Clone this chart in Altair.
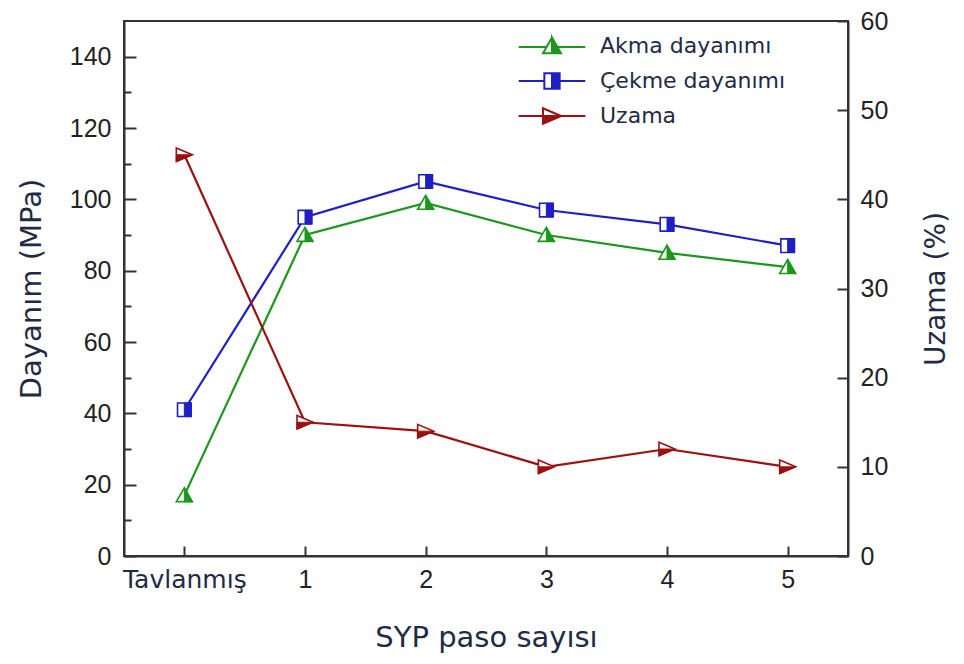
import altair as alt
import pandas as pd

# ---- data ----
categories = ["Tavlanmış", "1", "2", "3", "4", "5"]
akma = [17, 90, 99, 90, 85, 81]          # MPa (left axis)
cekme = [41, 95, 105, 97, 93, 87]        # MPa (left axis)
uzama = [45, 15, 14, 10, 12, 10]         # % (right axis)

series_names = ["Akma dayanımı", "Çekme dayanımı", "Uzama"]
series_colors = ["#1b971b", "#1f1fc4", "#9c1010"]

left_ticks_major = [0, 20, 40, 60, 80, 100, 120, 140]
left_ticks_minor = [10, 30, 50, 70, 90, 110, 130]
right_ticks = [0, 10, 20, 30, 40, 50, 60]

# ---- marker shapes (unit paths) ----
outline_paths = [
    "M0,-0.95L1,0.8L-1,0.8Z",
    "M-0.85,-0.85L0.85,-0.85L0.85,0.85L-0.85,0.85Z",
    "M-1,-0.85L1,0L-1,0.85Z",
]
half_paths = [
    "M0,-0.95L1,0.8L0,0.8Z",
    "M0,-0.85L0.85,-0.85L0.85,0.85L0,0.85Z",
    "M-1,0L1,0L-1,0.85Z",
]
legend_paths = [
    "M-3.7,0.1H-0.6M0.6,0.1H3.7"
    "M0,-0.95L-1,0.8L0,0.8L-1,0.8Z"
    "M0,-0.95L1,0.8L0,0.8Z",
    "M-3.7,0H-0.85M0.85,0H3.7"
    "M0,-0.85L-0.85,-0.85L-0.85,0.85L0,0.85L-0.85,0.85L-0.85,-0.85Z"
    "M0,-0.85L0.85,-0.85L0.85,0.85L0,0.85Z",
    "M-3.7,0H-1M1,0H3.7"
    "M-1,0L-1,-0.85L1,0L-1,-0.85Z"
    "M-1,0L1,0L-1,0.85Z",
]

W, H = 724, 535
TITLE_COLOR = "#1f2b45"
TICK_COLOR = "#333333"
NUM_SIZE = 25

xscale = alt.Scale(type="point", domain=categories, padding=0.5)
lscale = alt.Scale(domain=[0, 150], nice=False, zero=True)
rscale = alt.Scale(domain=[0, 60], nice=False, zero=True)

x_label_axis = alt.Axis(
    orient="bottom", ticks=False, domain=True, domainColor=TICK_COLOR, domainWidth=2,
    labelAngle=0, labelPadding=11,
    labelFont={"condition": {"test": "datum.value == 'Tavlanmış'", "value": "DejaVu Sans"}, "value": "Liberation Sans"},
    labelFontSize={"condition": {"test": "datum.value == 'Tavlanmış'", "value": 25}, "value": NUM_SIZE},
    labelColor={"condition": {"test": "datum.value == 'Tavlanmış'", "value": TITLE_COLOR}, "value": "#222222"},
    title="SYP paso sayısı", titleFont="DejaVu Sans", titleFontSize=29, titleFontWeight="normal",
    titleColor=TITLE_COLOR, titlePadding=31, grid=False,
)
x_tick_axis = alt.Axis(
    orient="bottom", labels=False, domain=False, ticks=True, tickSize={"expr": "-10"},
    tickColor=TICK_COLOR, tickWidth=2, title=None, grid=False,
)
l_label_axis = alt.Axis(
    orient="left", values=left_ticks_major, ticks=False, domain=True, domainColor=TICK_COLOR,
    domainWidth=2, labelFont="Liberation Sans", labelFontSize=NUM_SIZE, labelColor="#222222",
    labelPadding=13, title="Dayanım (MPa)", titleFont="DejaVu Sans", titleFontSize=29,
    titleFontWeight="normal", titleColor=TITLE_COLOR, titlePadding=23, grid=False,
)
l_major_axis = alt.Axis(
    orient="left", values=left_ticks_major, labels=False, domain=False, ticks=True,
    tickSize={"expr": "-12"}, tickColor=TICK_COLOR, tickWidth=2, title=None, grid=False,
)
l_minor_axis = alt.Axis(
    orient="left", values=left_ticks_minor, labels=False, domain=False, ticks=True,
    tickSize={"expr": "-7"}, tickColor=TICK_COLOR, tickWidth=2, title=None, grid=False,
)
r_label_axis = alt.Axis(
    orient="right", values=right_ticks, ticks=False, domain=True, domainColor=TICK_COLOR,
    domainWidth=2, labelFont="Liberation Sans", labelFontSize=NUM_SIZE, labelColor="#222222",
    labelPadding=12, title="Uzama (%)", titleFont="DejaVu Sans", titleFontSize=28,
    titleFontWeight="normal", titleColor=TITLE_COLOR, titleAngle=270, titleBaseline="top",
    titlePadding=35, grid=False,
)
r_tick_axis = alt.Axis(
    orient="right", values=right_ticks, labels=False, domain=False, ticks=True,
    tickSize={"expr": "-11"}, tickColor=TICK_COLOR, tickWidth=2, title=None, grid=False,
)


def frame(values):
    return pd.DataFrame({"cat": categories, "v": values})


def series_layers(values, idx, yscale, axes):
    """axes: list of (x_axis, y_axis) for line, bg, half layers"""
    df = frame(values)
    c = series_colors[idx]
    base = alt.Chart(df)
    line = base.mark_line(color=c, strokeWidth=2.2).encode(
        x=alt.X("cat:N", scale=xscale, sort=categories, axis=axes[0][0], title=None),
        y=alt.Y("v:Q", scale=yscale, axis=axes[0][1], title=None),
    )
    bg = base.mark_point(shape=outline_paths[idx], filled=True, fill="white", stroke=c,
                         strokeWidth=1.6, size=256, opacity=1).encode(
        x=alt.X("cat:N", scale=xscale, sort=categories, axis=axes[1][0], title=None),
        y=alt.Y("v:Q", scale=yscale, axis=axes[1][1], title=None),
    )
    half = base.mark_point(shape=half_paths[idx], filled=True, fill=c, stroke=c,
                           strokeWidth=1, size=256, opacity=1).encode(
        x=alt.X("cat:N", scale=xscale, sort=categories, axis=axes[2][0], title=None),
        y=alt.Y("v:Q", scale=yscale, axis=axes[2][1], title=None),
    )
    return line, bg, half


akma_l, akma_bg, akma_h = series_layers(
    akma, 0, lscale, [(x_label_axis, l_label_axis), (x_tick_axis, l_major_axis), (None, l_minor_axis)])
cekme_l, cekme_bg, cekme_h = series_layers(
    cekme, 1, lscale, [(None, None)] * 3)
uz_l, uz_bg, uz_h = series_layers(
    uzama, 2, rscale, [(None, r_label_axis), (None, r_tick_axis), (None, None)])

legend_df = pd.DataFrame({"series": series_names, "cat": [categories[0]] * 3, "v": [akma[0]] * 3})
leg = alt.Legend(
    orient="none", legendX=417, legendY=14, title=None, padding=0,
    labelFont="DejaVu Sans", labelFontSize=22, labelColor=TITLE_COLOR, labelOffset=37,
    labelLimit=400, symbolSize=324, symbolStrokeWidth=2, symbolOpacity=1, rowPadding=11,
)
legend_layer = alt.Chart(legend_df).mark_point(filled=True, opacity=0, size=324).encode(
    x=alt.X("cat:N", scale=xscale, sort=categories, axis=None),
    y=alt.Y("v:Q", scale=lscale, axis=None),
    shape=alt.Shape("series:N", scale=alt.Scale(domain=series_names, range=legend_paths), legend=leg),
    fill=alt.Fill("series:N", scale=alt.Scale(domain=series_names, range=series_colors), legend=leg),
    stroke=alt.Stroke("series:N", scale=alt.Scale(domain=series_names, range=series_colors), legend=leg),
)

left_group = alt.layer(
    akma_l, cekme_l, akma_bg, akma_h, cekme_bg, cekme_h, legend_layer
).resolve_axis(x="independent", y="independent")
right_group = alt.layer(uz_l, uz_bg, uz_h).resolve_axis(y="independent")

chart = alt.layer(left_group, right_group).resolve_scale(
    y="independent"
).resolve_axis(x="independent", y="independent").properties(
    width=W, height=H,
    autosize=alt.AutoSizeParams(type="none"),
    padding={"left": 116, "top": 13, "right": 108, "bottom": 100},
    background="white",
).configure_view(stroke=TICK_COLOR, strokeWidth=2)

chart.save("out.html", embed_options={"renderer": "svg", "actions": False})
